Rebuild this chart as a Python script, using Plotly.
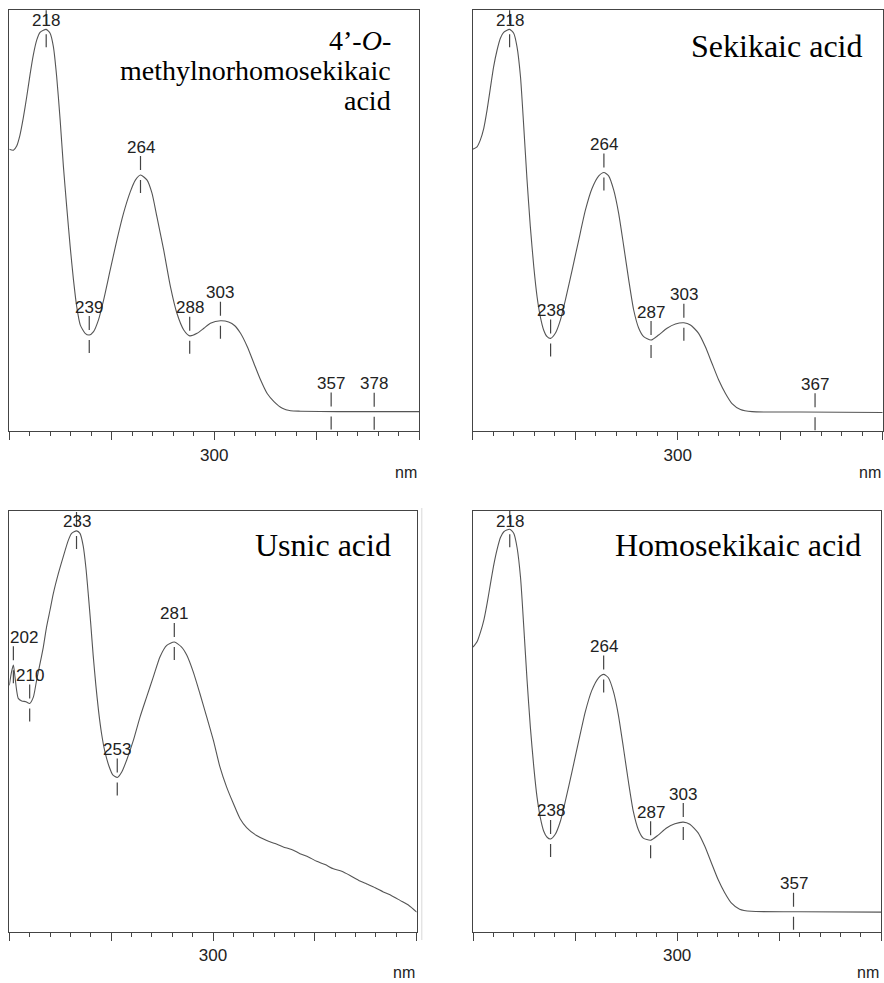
import numpy as np
import plotly.graph_objects as go

FIG_W, FIG_H = 884, 983

# ---------------- spectra (relative absorbance, 200-400 nm) ----------------
# 4'-O-methylnorhomosekikaic acid
wl_mnhs = [200, 202, 203.6, 205.2, 206.8, 208.5, 210.1, 211.7, 213.4, 215, 216.6, 218,
           219.9, 221.5, 223.1, 224.8, 226.4, 228, 229.7, 231.3, 232.9, 234.6, 237, 239,
           241.1, 243.5, 246, 249.2, 252.5, 255.7, 259, 261.5, 264, 267.2, 269.6, 272,
           275.3, 278.6, 281.8, 285.1, 288, 291.6, 294.9, 298.1, 303, 307, 310, 312.8,
           316.1, 319.3, 322.6, 325.8, 329.1, 333.2, 337.2, 342.1, 360, 380, 400]
ab_mnhs = [0.669, 0.667, 0.677, 0.703, 0.743, 0.794, 0.846, 0.893, 0.929, 0.947, 0.952, 0.954,
           0.945, 0.913, 0.842, 0.739, 0.628, 0.533, 0.438, 0.359, 0.295, 0.252, 0.232, 0.228,
           0.236, 0.264, 0.311, 0.382, 0.454, 0.517, 0.568, 0.596, 0.608, 0.596, 0.565, 0.509,
           0.430, 0.343, 0.279, 0.240, 0.226, 0.232, 0.244, 0.256, 0.262, 0.259, 0.250, 0.232,
           0.200, 0.161, 0.121, 0.089, 0.070, 0.054, 0.048, 0.047, 0.046, 0.046, 0.046]
pk_mnhs = [218, 239, 264, 288, 303, 357, 378]

# Sekikaic acid
wl_sek = [200, 202.1, 203.7, 205.4, 207, 208.6, 210.2, 211.9, 213.5, 215.1, 218, 220,
          221.6, 223.3, 224.9, 226.5, 228.1, 229.8, 231.4, 233, 234.6, 236.3, 238, 240.3,
          242.8, 245.2, 248.5, 251.7, 255, 258.2, 261.5, 264, 266.3, 268.8, 271.2, 273.7,
          276.1, 278.5, 281, 283.4, 287, 290.7, 294.8, 298.9, 303, 306.2, 310.2, 313.5,
          316.7, 320, 323.3, 326.5, 330.6, 336.3, 360, 400]
ab_sek = [0.669, 0.675, 0.691, 0.719, 0.762, 0.814, 0.865, 0.905, 0.933, 0.947, 0.954, 0.945,
          0.913, 0.842, 0.723, 0.597, 0.486, 0.390, 0.319, 0.271, 0.240, 0.224, 0.220, 0.232,
          0.264, 0.311, 0.382, 0.453, 0.525, 0.576, 0.606, 0.614, 0.606, 0.572, 0.517, 0.438,
          0.359, 0.288, 0.244, 0.224, 0.216, 0.228, 0.244, 0.254, 0.257, 0.252, 0.232, 0.200,
          0.161, 0.121, 0.089, 0.065, 0.051, 0.046, 0.045, 0.044]
pk_sek = [218, 238, 264, 287, 303, 367]

# Usnic acid
wl_usn = [200, 201.1, 202, 202.8, 203.6, 204.4, 206.1, 208.2, 210, 211.8, 213.4, 215.1,
          216.7, 218.3, 220, 221.6, 224.1, 226.5, 229, 230.6, 233, 234.7, 236.3, 237.6,
          238.8, 240, 241.2, 242.5, 243.8, 245.3, 246.9, 249, 250.8, 253, 255.2, 257.6,
          260.9, 264.2, 267.4, 270.7, 274, 277.3, 281, 284.6, 287.1, 290.3, 293.6, 296.9,
          300.2, 303.4, 306.7, 310, 313.3, 316.5, 321.4, 326.4, 330.5, 334.5, 338.6, 342.7,
          346.8, 350.9, 355, 359.1, 363.2, 367.3, 371.4, 375.5, 379.6, 383.6, 387.7, 391.8,
          395.9, 400]
ab_usn = [0.585, 0.617, 0.633, 0.605, 0.573, 0.554, 0.548, 0.546, 0.542, 0.557, 0.597, 0.637,
          0.676, 0.724, 0.764, 0.803, 0.851, 0.891, 0.930, 0.946, 0.952, 0.946, 0.916, 0.865,
          0.800, 0.730, 0.655, 0.585, 0.525, 0.470, 0.428, 0.392, 0.372, 0.366, 0.379, 0.407,
          0.454, 0.510, 0.557, 0.605, 0.653, 0.680, 0.688, 0.676, 0.657, 0.617, 0.565, 0.510,
          0.454, 0.391, 0.343, 0.304, 0.268, 0.247, 0.228, 0.216, 0.209, 0.201, 0.195, 0.185,
          0.177, 0.167, 0.159, 0.149, 0.143, 0.133, 0.122, 0.113, 0.104, 0.094, 0.085, 0.074,
          0.063, 0.046]
pk_usn = [202, 210, 233, 253, 281]

# Homosekikaic acid
wl_hsk = [200, 202.1, 203.7, 205.4, 207, 208.6, 210.2, 211.9, 213.5, 215.1, 218, 220,
          221.6, 223.3, 224.9, 226.5, 228.1, 229.8, 231.4, 233, 234.6, 236.3, 238, 240.3,
          242.8, 245.2, 248.5, 251.7, 255, 258.2, 261.5, 264, 266.3, 268.8, 271.2, 273.7,
          276.1, 278.5, 281, 283.4, 287, 290.7, 294.8, 298.9, 303, 306.2, 310.2, 313.5,
          316.7, 320, 323.3, 326.5, 330.6, 336.3, 360, 400]
ab_hsk = [0.676, 0.690, 0.712, 0.742, 0.782, 0.828, 0.872, 0.910, 0.937, 0.950, 0.956, 0.946,
          0.912, 0.840, 0.722, 0.596, 0.485, 0.390, 0.318, 0.270, 0.239, 0.224, 0.220, 0.231,
          0.262, 0.309, 0.380, 0.451, 0.522, 0.573, 0.603, 0.611, 0.603, 0.570, 0.515, 0.436,
          0.357, 0.286, 0.242, 0.222, 0.217, 0.229, 0.246, 0.256, 0.260, 0.255, 0.235, 0.203,
          0.164, 0.124, 0.092, 0.068, 0.053, 0.048, 0.047, 0.046]
pk_hsk = [218, 238, 264, 287, 303, 357]

TICK_VALS = [200, 250, 300, 350, 400]
TICK_TEXT = ["", "", "300", "", ""]

# panel boxes in page pixels: left, right, top, bottom
panels = [
    dict(wl=wl_mnhs, ab=ab_mnhs, peaks=pk_mnhs, box=(9.3, 419.3, 10, 431),
         title=["4\u2019-<i>O</i>-", "methylnorhomosekikaic", "acid"], tsize=28,
         tright=26, tlines=[30.5, 60.5, 91]),
    dict(wl=wl_sek, ab=ab_sek, peaks=pk_sek, box=(472.7, 882.7, 10, 431),
         title=["Sekikaic acid"], tsize=32, tright=19, tlines=[36.5]),
    dict(wl=wl_usn, ab=ab_usn, peaks=pk_usn, box=(9.3, 416.7, 510.7, 931.5),
         title=["Usnic acid"], tsize=32, tright=24, tlines=[34.5]),
    dict(wl=wl_hsk, ab=ab_hsk, peaks=pk_hsk, box=(473, 881.3, 510.7, 931.5),
         title=["Homosekikaic acid"], tsize=32, tright=18.5, tlines=[34.5]),
]

AX_COL = "#444444"
CURVE_COL = "#555555"
LABEL_FONT = dict(family="Liberation Sans, Arial, sans-serif", size=17, color="#222222")
TITLE_FONT = "Liberation Serif, Times New Roman, serif"

fig = go.Figure()
layout = dict(width=FIG_W, height=FIG_H, margin=dict(l=0, r=0, t=0, b=0),
              paper_bgcolor="white", plot_bgcolor="white", showlegend=False)
annotations = []
shapes = []

for i, p in enumerate(panels, start=1):
    sfx = "" if i == 1 else str(i)
    left, right, top, bottom = p["box"]
    dom_x = [left / FIG_W, right / FIG_W]
    dom_y = [1 - bottom / FIG_H, 1 - top / FIG_H]
    h_px = bottom - top
    px_per_nm = (right - left) / 200.0

    layout["xaxis" + sfx] = dict(
        domain=dom_x, range=[200, 400], anchor="y" + sfx,
        showline=True, linecolor=AX_COL, linewidth=1.3, mirror=True,
        ticks="outside", tickvals=TICK_VALS, ticktext=TICK_TEXT,
        ticklen=8, tickwidth=1.2, tickcolor=AX_COL,
        minor=dict(dtick=10, tick0=200, ticks="outside", ticklen=4,
                   tickwidth=1.1, tickcolor=AX_COL),
        tickfont=LABEL_FONT, showgrid=False, zeroline=False, fixedrange=True)
    layout["yaxis" + sfx] = dict(
        domain=dom_y, range=[0, 1], anchor="x" + sfx,
        showline=True, linecolor=AX_COL, linewidth=1.3, mirror=True,
        ticks="", showticklabels=False, showgrid=False, zeroline=False,
        fixedrange=True)

    fig.add_trace(go.Scatter(
        x=p["wl"], y=p["ab"], mode="lines", xaxis="x" + sfx, yaxis="y" + sfx,
        line=dict(color=CURVE_COL, width=1.1, shape="spline", smoothing=0.6),
        hoverinfo="skip"))

    # peak / valley markers with wavelength labels
    for w in p["peaks"]:
        v = float(np.interp(w, p["wl"], p["ab"]))
        up = 1.0 / h_px
        for y0, y1 in ((v + 5 * up, v + 19 * up), (v - 5 * up, v - 18 * up)):
            shapes.append(dict(type="line", xref="x" + sfx, yref="y" + sfx,
                               x0=w, x1=w, y0=y0, y1=y1,
                               line=dict(color=AX_COL, width=1.2)))
        dist_top = (1 - v) * h_px
        yshift = min(28, dist_top - 10.5)
        px = (w - 200) * px_per_nm
        xshift = max(0.0, 14.5 - px)
        annotations.append(dict(x=w, y=v, xref="x" + sfx, yref="y" + sfx,
                                text=str(w), showarrow=False, font=LABEL_FONT,
                                xanchor="center", yanchor="middle",
                                xshift=xshift, yshift=yshift))

    # axis unit
    annotations.append(dict(x=1, y=0, xref="x" + sfx + " domain", yref="y" + sfx + " domain",
                            text="nm", showarrow=False, xanchor="right", yanchor="middle",
                            yshift=-41, font=dict(family=LABEL_FONT["family"], size=16,
                                                  color="#222222")))

    # compound name
    for line, dy in zip(p["title"], p["tlines"]):
        annotations.append(dict(x=1, y=1, xref="x" + sfx + " domain", yref="y" + sfx + " domain",
                                text=line, showarrow=False, xanchor="right", yanchor="middle",
                                xshift=-p["tright"], yshift=-dy,
                                font=dict(family=TITLE_FONT, size=p["tsize"], color="black")))

# faint rule at the right of the lower-left panel
shapes.append(dict(type="line", xref="paper", yref="paper",
                   x0=421.7 / FIG_W, x1=421.7 / FIG_W,
                   y0=1 - 940 / FIG_H, y1=1 - 508 / FIG_H,
                   line=dict(color="#e4e4e4", width=1.5)))

layout["annotations"] = annotations
layout["shapes"] = shapes
fig.update_layout(**layout)
fig.write_html("out.html")
